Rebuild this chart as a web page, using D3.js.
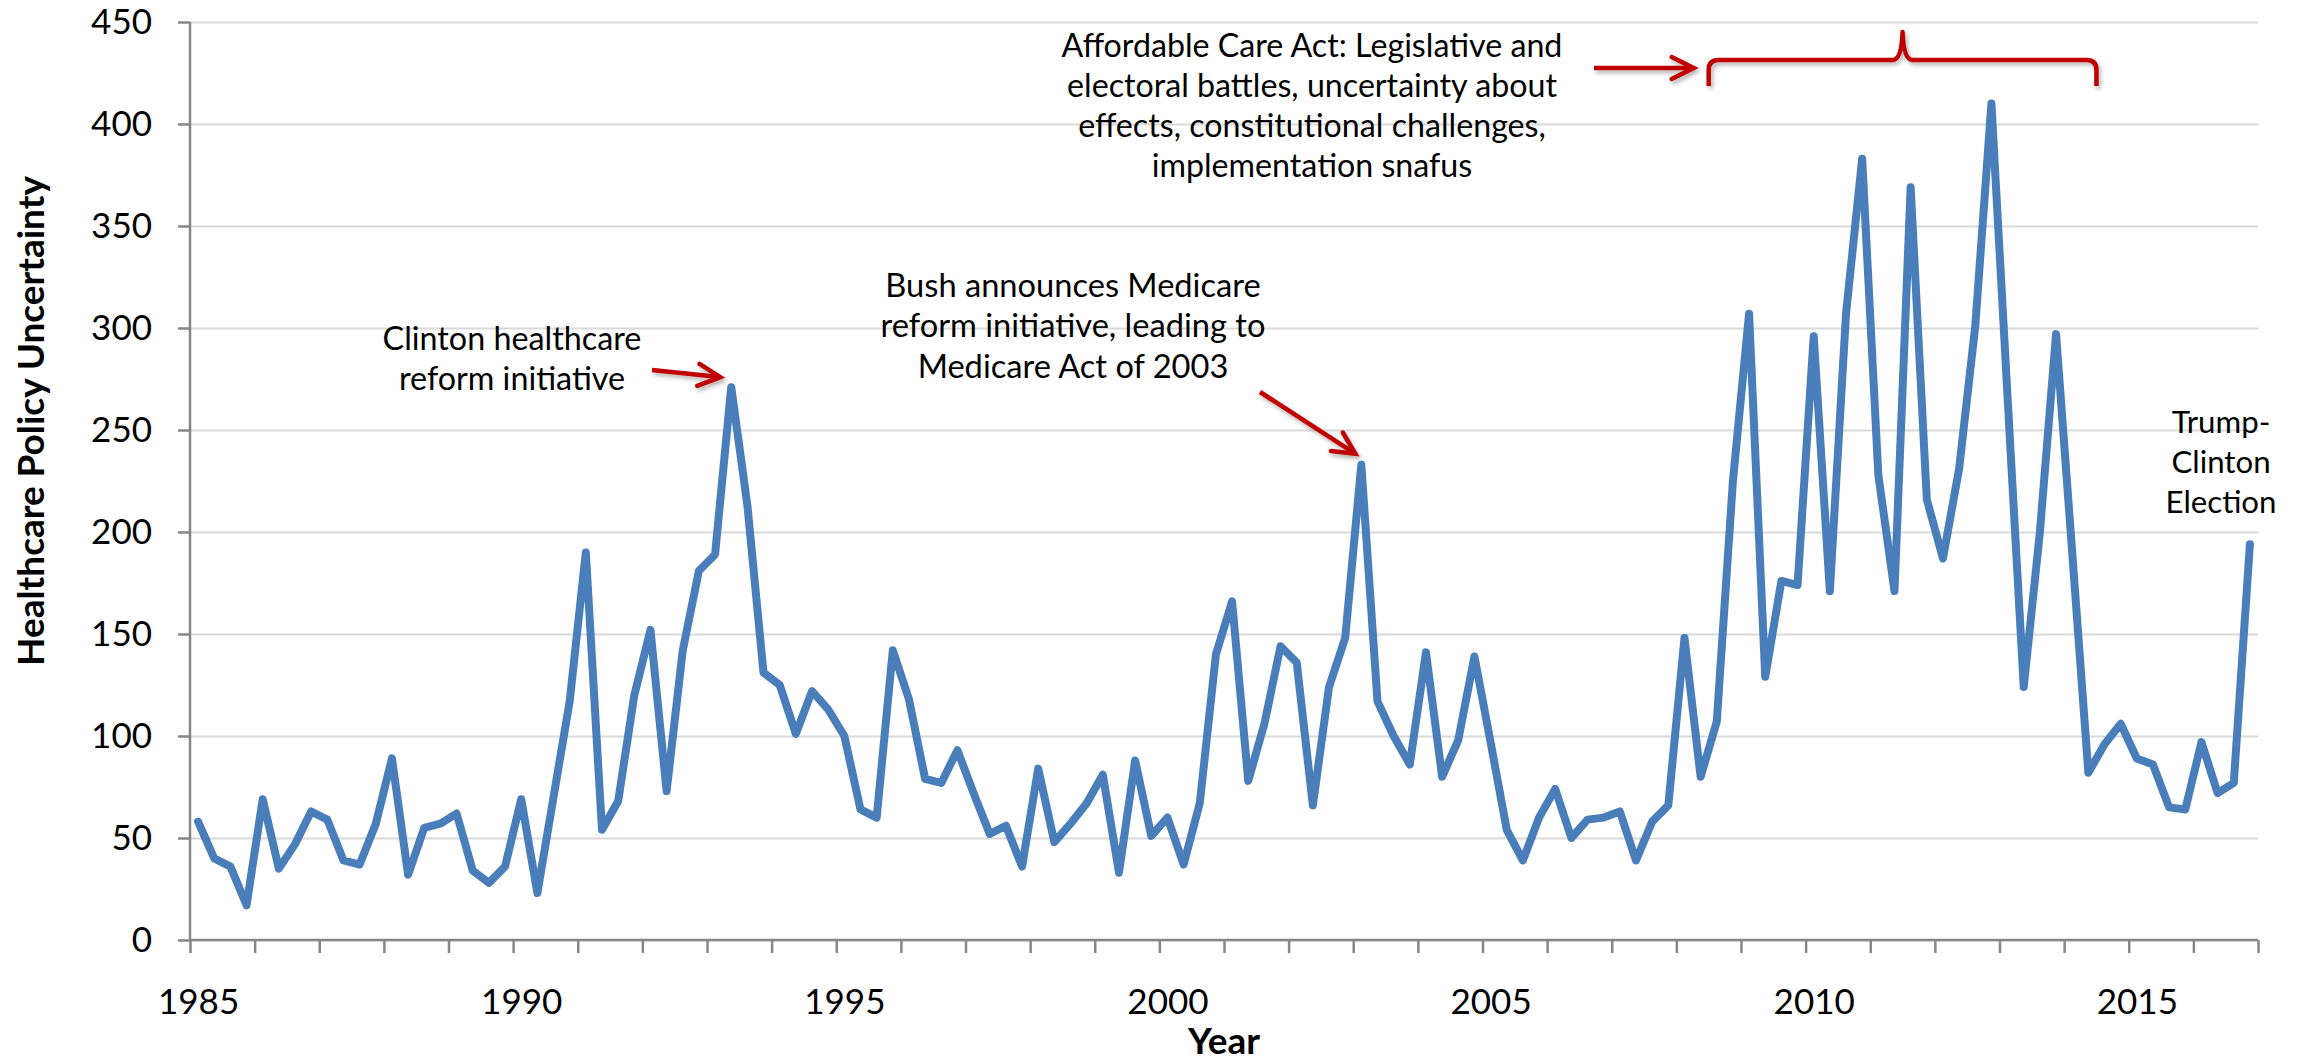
<!DOCTYPE html>
<html><head><meta charset="utf-8">
<script src="https://cdn.jsdelivr.net/npm/d3@7"></script>
<style>
html,body{margin:0;padding:0;background:#fff;}
svg{display:block;}
text{font-family:Lato,"Open Sans",sans-serif;fill:#000;}
</style></head><body>
<svg id="chart" width="2302" height="1064"></svg>
<script>
// ---------- data ----------
const years = d3.range(1985, 2017);
const quarters = ["Q1","Q2","Q3","Q4"];
const periods = years.flatMap(y => quarters.map(q => y + q));
const hpu = [
  58, 40, 36, 17,   69, 35, 47, 63,   59, 39, 37, 57,   89, 32, 55, 57,   // 1985-1988
  62, 34, 28, 36,   69, 23, 70, 117,  190, 54, 68, 120, 152, 73, 142, 181, // 1989-1992
  189, 271, 213, 131, 125, 101, 122, 113, 100, 64, 60, 142, 118, 79, 77, 93, // 1993-1996
  72, 52, 56, 36,   84, 48, 57, 67,   81, 33, 88, 51,   60, 37, 67, 140,  // 1997-2000
  166, 78, 106, 144, 136, 66, 124, 148, 233, 117, 100, 86, 141, 80, 98, 139, // 2001-2004
  97, 54, 39, 60,   74, 50, 59, 60,   63, 39, 58, 66,   148, 80, 107, 225, // 2005-2008
  307, 129, 176, 174, 296, 171, 307, 383, 228, 171, 369, 216, 187, 231, 301, 410, // 2009-2012
  266, 124, 200, 297, 190, 82, 96, 106, 89, 86, 65, 64,  97, 72, 77, 194  // 2013-2016
];
const yTicks = [0, 50, 100, 150, 200, 250, 300, 350, 400, 450];
const xLabelYears = [1985, 1990, 1995, 2000, 2005, 2010, 2015];
const yTitle = "Healthcare Policy Uncertainty";
const xTitle = "Year";
const clintonText = ["Clinton healthcare", "reform initiative"];
const bushText = ["Bush announces Medicare", "reform initiative, leading to", "Medicare Act of 2003"];
const acaText = ["Affordable Care Act: Legislative and", "electoral battles, uncertainty about", "effects, constitutional challenges,", "implementation snafus"];
const trumpText = ["Trump-", "Clinton", "Election"];

// ---------- layout ----------
const W = 2302, H = 1064;
const L = 190, R = 2258, T = 22, B = 940;
const svg = d3.select("#chart");

const defs = svg.append("defs");
const f = defs.append("filter").attr("id","shadow").attr("x","-20%").attr("y","-50%").attr("width","140%").attr("height","200%");
f.append("feDropShadow").attr("dx",2).attr("dy",3).attr("stdDeviation",2).attr("flood-color","#000").attr("flood-opacity",0.3);

const x = d3.scalePoint().domain(periods).range([L, R]).padding(0.5);
const xb = d3.scaleLinear().domain([0, periods.length]).range([L, R]);
const y = d3.scaleLinear().domain([0, 450]).range([B, T]);

// gridlines
const grid = svg.append("g").attr("transform", `translate(${L},0)`)
  .call(d3.axisLeft(y).tickValues(yTicks).tickSize(-(R - L)).tickFormat(""));
grid.select(".domain").remove();
grid.selectAll("line").attr("stroke", "#d9d9d9").attr("stroke-width", 2);

// y axis
const ya = svg.append("g").attr("transform", `translate(${L},0)`)
  .call(d3.axisLeft(y).tickValues(yTicks).tickSize(12).tickPadding(26));
ya.select(".domain").attr("stroke", "#868686").attr("stroke-width", 2.5).attr("d", `M0,${B}V${T}`);
ya.selectAll("line").attr("stroke", "#868686").attr("stroke-width", 2.5);
ya.selectAll("text").attr("font-size", 35).attr("font-family", "Lato").attr("fill", "#000");

// x axis: year-boundary tick marks
const xt = svg.append("g").attr("transform", `translate(0,${B})`)
  .call(d3.axisBottom(xb).tickValues(d3.range(0, periods.length + 1, 4)).tickSize(13).tickFormat(""));
xt.select(".domain").attr("stroke", "#868686").attr("stroke-width", 2.5).attr("d", `M${L},0H${R}`);
xt.selectAll("line").attr("stroke", "#868686").attr("stroke-width", 2.5);

// x axis labels
const xl = svg.append("g").attr("transform", `translate(0,${B})`)
  .call(d3.axisBottom(x).tickValues(xLabelYears.map(v => v + "Q1")).tickSize(0).tickPadding(49)
    .tickFormat(d => d.slice(0, 4)));
xl.select(".domain").remove();
xl.selectAll("text").attr("font-size", 35).attr("font-family", "Lato").attr("fill", "#000");

// line
svg.append("path")
  .datum(hpu)
  .attr("fill", "none")
  .attr("stroke", "#4a7ebb")
  .attr("stroke-width", 8)
  .attr("stroke-linejoin", "round")
  .attr("stroke-linecap", "round")
  .attr("d", d3.line().x((d, i) => x(periods[i])).y(d => y(d)));

// helpers
function fitText(sel, target) {
  let maxW = 0;
  sel.each(function(){ maxW = Math.max(maxW, this.getComputedTextLength()); });
  const fs = parseFloat(sel.attr("font-size"));
  sel.attr("font-size", fs * target / maxW);
}
function block(lines, cx, baselines, target) {
  const g = svg.append("g");
  const t = g.selectAll("text").data(lines).join("text")
    .attr("x", cx).attr("y", (d, i) => baselines[i])
    .attr("text-anchor", "middle").attr("font-size", 28).text(d => d);
  fitText(t, target);
  return g;
}
function arrow(x1, y1, x2, y2) {
  const dx = x2 - x1, dy = y2 - y1, len = Math.hypot(dx, dy);
  const ux = dx / len, uy = dy / len, nx = -uy, ny = ux;
  const hl = 22, hw = 11;
  const g = svg.append("g").attr("filter", "url(#shadow)");
  g.append("line").attr("x1", x1).attr("y1", y1).attr("x2", x2 - ux * 3).attr("y2", y2 - uy * 3)
    .attr("stroke", "#c00000").attr("stroke-width", 4.5);
  g.append("path")
    .attr("d", `M${x2 - ux*hl + nx*hw},${y2 - uy*hl + ny*hw}L${x2},${y2}L${x2 - ux*hl - nx*hw},${y2 - uy*hl - ny*hw}`)
    .attr("fill", "none").attr("stroke", "#c00000").attr("stroke-width", 4.5)
    .attr("stroke-linejoin", "miter").attr("stroke-linecap", "round");
}

// axis titles
const yt = svg.append("text")
  .attr("transform", `translate(44,421) rotate(-90)`)
  .attr("text-anchor", "middle").attr("font-weight", "bold").attr("font-size", 34).text(yTitle);
fitText(yt, 490);
const xtt = svg.append("text")
  .attr("x", (L + R) / 2).attr("y", 1054)
  .attr("text-anchor", "middle").attr("font-weight", "bold").attr("font-size", 34).text(xTitle);
fitText(xtt, 72);

// annotations
block(clintonText, 512, [350, 390], 259);
block(bushText, 1073, [297, 337, 378], 385);
block(acaText, 1312, [57, 97, 137, 177], 501);
block(trumpText, 2221, [433, 473, 513], 111);

// Clinton arrow -> 1993Q2 peak
{
  const px = x("1993Q2"), py = y(hpu[periods.indexOf("1993Q2")]);
  arrow(652, 370, px - 11, py - 10);
}
// Bush arrow -> 2003Q1 peak
{
  const px = x("2003Q1"), py = y(hpu[periods.indexOf("2003Q1")]);
  arrow(1260, 392, px - 6, py - 11);
}
// ACA arrow + brace over 2008Q3 .. 2014Q2
{
  const bl = xb(94), br = xb(118), bc = xb(106);
  arrow(1594, 68, bl - 15, 68);
  svg.append("path")
    .attr("d", `M${bl},86 L${bl},70 Q${bl},60 ${bl+10},60 L${bc-10},60 Q${bc-1},60 ${bc},32 Q${bc+1},60 ${bc+10},60 L${br-10},60 Q${br},60 ${br},70 L${br},86`)
    .attr("fill", "none").attr("stroke", "#c00000").attr("stroke-width", 4.5)
    .attr("stroke-linejoin", "round").attr("filter", "url(#shadow)");
}
</script>
</body></html>
